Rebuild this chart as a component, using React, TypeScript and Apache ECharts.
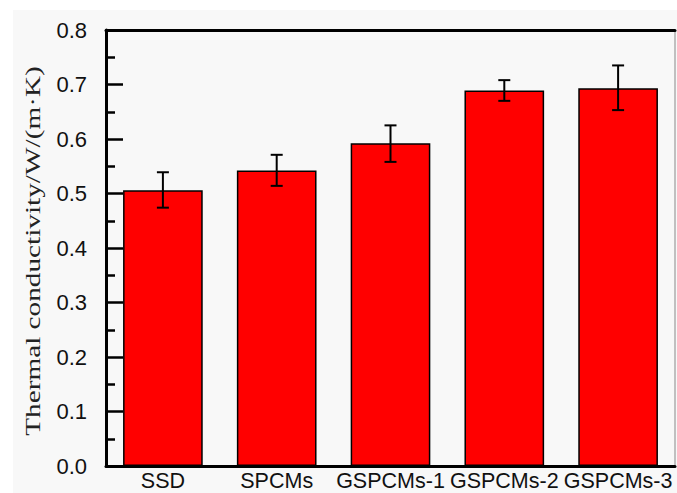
import React, { useEffect, useRef } from "react";
import * as echarts from "echarts";

const categories = ["SSD", "SPCMs", "GSPCMs-1", "GSPCMs-2", "GSPCMs-3"];
const conductivity = [0.506, 0.542, 0.592, 0.689, 0.693];
const errorLow = [0.474, 0.514, 0.558, 0.67, 0.653];
const errorHigh = [0.539, 0.571, 0.625, 0.708, 0.735];
const yTitle = "Thermal conductivity/W/(m·K)";

export default function App() {
  const ref = useRef<HTMLDivElement>(null);
  useEffect(() => {
    if (!ref.current) return;
    const chart = echarts.init(ref.current, null, { renderer: "svg" });
    const errData = categories.map((_, i) => [i, errorLow[i], errorHigh[i]]);
    chart.setOption({
      animation: false,
      backgroundColor: "#ffffff",
      graphic: [
        {
          type: "rect",
          left: 13,
          top: 10,
          z: -100,
          shape: { width: 664, height: 483 },
          style: { fill: "#f8f8f8" },
        },
        {
          type: "text",
          x: 33,
          y: 251,
          rotation: Math.PI / 2,
          scaleX: 1.33,
          style: {
            text: yTitle,
            fill: "#222",
            font: "22px 'Liberation Serif'",
            align: "center",
            verticalAlign: "middle",
          },
        },
      ],
      grid: {
        left: 106,
        right: 2,
        top: 30,
        bottom: 27,
        show: true,
        borderColor: "#888",
        borderWidth: 1,
        backgroundColor: "transparent",
      },
      xAxis: [
        {
          type: "category",
          data: categories,
          axisLine: { lineStyle: { color: "#000", width: 3 } },
          axisTick: { show: false },
          axisLabel: {
            color: "#111",
            fontFamily: "Liberation Sans",
            fontSize: 21.5,
            margin: 4,
            interval: 0,
            hideOverlap: false,
          },
        },
        {
          type: "category",
          position: "top",
          data: categories,
          axisLine: { lineStyle: { color: "#000", width: 3 } },
          axisTick: { show: false },
          axisLabel: { show: false },
        },
      ],
      yAxis: {
        type: "value",
        min: 0,
        max: 0.8,
        interval: 0.1,
        axisLine: { show: true, lineStyle: { color: "#000", width: 3 } },
        axisTick: {
          show: true,
          inside: true,
          length: 17,
          lineStyle: { color: "#000", width: 2.5 },
        },
        minorTick: {
          show: true,
          splitNumber: 2,
          length: 9,
          lineStyle: { color: "#000", width: 2.5 },
        },
        splitLine: { show: false },
        axisLabel: {
          color: "#111",
          fontFamily: "Liberation Sans",
          fontSize: 22,
          margin: 19,
          formatter: (v: number) => v.toFixed(1),
        },
      },
      series: [
        {
          type: "bar",
          data: conductivity,
          barWidth: "70%",
          itemStyle: { color: "#ff0000", borderColor: "#000", borderWidth: 1.5 },
        },
        {
          type: "custom",
          data: errData,
          z: 10,
          renderItem: (params: any, api: any) => {
            const x = api.value(0);
            const hi = api.coord([x, api.value(2)]);
            const lo = api.coord([x, api.value(1)]);
            const w = 6;
            const style = { stroke: "#000", lineWidth: 2 };
            return {
              type: "group",
              children: [
                { type: "line", shape: { x1: hi[0], y1: hi[1], x2: lo[0], y2: lo[1] }, style },
                { type: "line", shape: { x1: hi[0] - w, y1: hi[1], x2: hi[0] + w, y2: hi[1] }, style },
                { type: "line", shape: { x1: lo[0] - w, y1: lo[1], x2: lo[0] + w, y2: lo[1] }, style },
              ],
            };
          },
        },
      ],
    });
    return () => chart.dispose();
  }, []);
  return (
    <div
      ref={ref}
      style={{ position: "fixed", left: 0, top: 0, width: 677, height: 493 }}
    />
  );
}
